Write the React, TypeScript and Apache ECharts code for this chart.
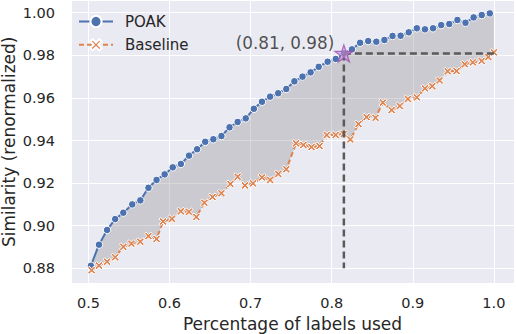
import React, { useEffect, useRef } from "react";
import * as echarts from "echarts";

const poakX = [0.503,0.513,0.523,0.533,0.543,0.554,0.564,0.574,0.584,0.594,0.604,0.614,0.624,0.634,0.644,0.654,0.664,0.674,0.684,0.694,0.704,0.714,0.724,0.734,0.744,0.754,0.764,0.774,0.784,0.795,0.805,0.815,0.825,0.835,0.845,0.855,0.865,0.875,0.885,0.895,0.905,0.915,0.925,0.935,0.945,0.955,0.965,0.975,0.985,0.995];
const poakY = [0.8812,0.8911,0.8980,0.9031,0.9061,0.9100,0.9119,0.9178,0.9215,0.9241,0.9274,0.9290,0.9329,0.9359,0.9394,0.9406,0.9421,0.9462,0.9487,0.9504,0.9549,0.9582,0.9606,0.9622,0.9642,0.9678,0.9700,0.9720,0.9746,0.9770,0.9783,0.9809,0.9828,0.9859,0.9867,0.9864,0.9872,0.9891,0.9892,0.9908,0.9927,0.9922,0.9927,0.9942,0.9947,0.9966,0.9953,0.9978,0.9989,0.9997];
const baseX = [0.504,0.513,0.523,0.533,0.543,0.553,0.564,0.574,0.584,0.592,0.603,0.614,0.624,0.633,0.643,0.653,0.664,0.675,0.684,0.693,0.703,0.714,0.724,0.734,0.744,0.756,0.765,0.775,0.785,0.794,0.805,0.815,0.823,0.833,0.843,0.854,0.863,0.874,0.884,0.894,0.905,0.915,0.924,0.933,0.943,0.954,0.964,0.974,0.985,0.993,1.000];
const baseY = [0.8791,0.8813,0.8831,0.8852,0.8901,0.8916,0.8925,0.8951,0.8938,0.9020,0.9032,0.9068,0.9065,0.9041,0.9108,0.9135,0.9152,0.9196,0.9230,0.9189,0.9199,0.9227,0.9215,0.9243,0.9265,0.9387,0.9379,0.9369,0.9374,0.9426,0.9426,0.9431,0.9405,0.9477,0.9510,0.9507,0.9578,0.9543,0.9562,0.9595,0.9603,0.9645,0.9655,0.9682,0.9725,0.9726,0.9758,0.9767,0.9774,0.9792,0.9814];

const seriesNames = ["POAK", "Baseline"];
const starIndex = 31;
const guideBottomY = 0.88;
const annotationText = "(0.81, 0.98)";
const xAxisName = "Percentage of labels used";
const yAxisName = "Similarity (renormalized)";

const STAR_PATH =
  "path://M0.5,0 L0.612,0.345 L0.976,0.345 L0.682,0.559 L0.794,0.905 L0.5,0.691 L0.206,0.905 L0.318,0.559 L0.024,0.345 L0.388,0.345 Z";
const X_PATH =
  "path://M0,0.2 L0.2,0 L0.5,0.3 L0.8,0 L1,0.2 L0.7,0.5 L1,0.8 L0.8,1 L0.5,0.7 L0.2,1 L0,0.8 L0.3,0.5 Z";

export default function App() {
  const ref = useRef<HTMLDivElement>(null);
  useEffect(() => {
    document.body.style.margin = "0";
    if (!ref.current) return;
    const chart = echarts.init(ref.current, undefined, { renderer: "svg" });
    const poakData = poakX.map((x, i) => [x, poakY[i]]);
    const baseData = baseX.map((x, i) => [x, baseY[i]]);
    const starX = poakX[starIndex];
    const starY = poakY[starIndex];
    const lastBaseX = baseX[baseX.length - 1];
    const textColor = "#262626";

    chart.setOption({
      animation: false,
      backgroundColor: "#ffffff",
      textStyle: { fontFamily: "DejaVu Sans" },
      grid: {
        left: 71,
        right: 2,
        top: 0.6,
        bottom: 51,
        show: true,
        backgroundColor: "#EAEAF2",
        borderWidth: 0,
        containLabel: false,
        outerBoundsMode: "none",
      },
      legend: {
        data: seriesNames,
        orient: "vertical",
        left: 73,
        top: 9,
        itemWidth: 34,
        itemHeight: 14,
        itemGap: 8.3,
        textStyle: { fontSize: 15, color: textColor, padding: [0, 0, 0, 7] },
      },
      xAxis: {
        type: "value",
        min: 0.4785,
        max: 1.0248,
        splitNumber: 5,
        axisLine: { show: false },
        axisTick: { show: false },
        splitLine: { show: true, lineStyle: { color: "#ffffff", width: 1 } },
        axisLabel: {
          showMinLabel: false,
          showMaxLabel: false,
          formatter: (v: number) => v.toFixed(1),
          fontSize: 14.5,
          color: textColor,
          margin: 12,
        },
        name: xAxisName,
        nameLocation: "middle",
        nameGap: 32,
        nameMoveOverlap: false,
        nameTextStyle: { fontSize: 17, color: textColor },
      },
      yAxis: {
        type: "value",
        min: 0.8731,
        max: 1.0057,
        splitNumber: 7,
        axisLine: { show: false },
        axisTick: { show: false },
        splitLine: { show: true, lineStyle: { color: "#ffffff", width: 1 } },
        axisLabel: {
          showMinLabel: false,
          showMaxLabel: false,
          formatter: (v: number) => v.toFixed(2),
          fontSize: 14.5,
          color: textColor,
          margin: 16,
        },
        name: yAxisName,
        nameLocation: "middle",
        nameGap: 54,
        nameMoveOverlap: false,
        nameTextStyle: { fontSize: 17, color: textColor },
      },
      series: [
        {
          type: "custom",
          name: "fill",
          silent: true,
          z: 1,
          data: [[poakX[0], poakY[0]]],
          renderItem: (_params: any, api: any) => {
            const pts: number[][] = [];
            for (let i = 0; i < poakX.length; i++) pts.push(api.coord([poakX[i], poakY[i]]));
            pts.push(api.coord([lastBaseX, poakY[poakY.length - 1]]));
            for (let i = baseX.length - 1; i >= 0; i--) pts.push(api.coord([baseX[i], baseY[i]]));
            return {
              type: "polygon",
              shape: { points: pts },
              style: { fill: "rgba(128,128,128,0.3)" },
            };
          },
        },
        {
          type: "line",
          name: seriesNames[0],
          data: poakData,
          z: 3,
          symbol: "circle",
          symbolSize: 7.5,
          showAllSymbol: true,
          itemStyle: { color: "#4C72B0", borderColor: "#ffffff", borderWidth: 1 },
          lineStyle: { color: "#4C72B0", width: 2 },
        },
        {
          type: "line",
          name: seriesNames[1],
          data: baseData,
          z: 3,
          symbol: X_PATH,
          symbolSize: 8,
          showAllSymbol: true,
          itemStyle: { color: "#DD8452", borderColor: "#ffffff", borderWidth: 1 },
          lineStyle: { color: "#DD8452", width: 2, type: [5, 3] },
        },
        {
          type: "line",
          name: "guideV",
          data: [[starX, starY], [starX, guideBottomY]],
          symbol: "none",
          z: 4,
          lineStyle: { color: "#5a5a5a", width: 2.5, type: [7, 4] },
        },
        {
          type: "line",
          name: "guideH",
          data: [[starX, starY], [lastBaseX, starY]],
          symbol: "none",
          z: 4,
          lineStyle: { color: "#5a5a5a", width: 2.5, type: [7, 4] },
        },
        {
          type: "scatter",
          name: "star",
          data: [[starX, starY]],
          symbol: STAR_PATH,
          symbolKeepAspect: true,
          symbolSize: 18,
          z: 5,
          itemStyle: { color: "rgba(200,140,220,0.75)", borderColor: "#9b4fb0", borderWidth: 1.2 },
          label: {
            show: true,
            formatter: annotationText,
            position: "left",
            distance: 0,
            offset: [0, -10],
            fontSize: 16.8,
            color: textColor,
          },
        },
      ],
    });
    return () => chart.dispose();
  }, []);
  return <div ref={ref} style={{ width: 516, height: 334 }} />;
}
